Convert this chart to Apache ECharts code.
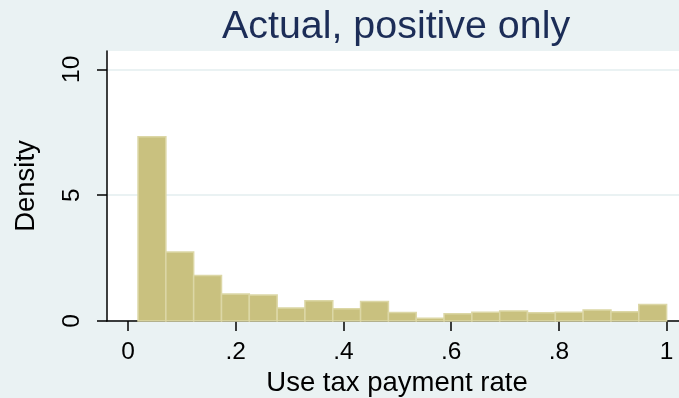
<!DOCTYPE html>
<html>
<head>
<meta charset="utf-8">
<script src="https://cdn.jsdelivr.net/npm/echarts@6/dist/echarts.min.js"></script>
<style>
  html, body { margin: 0; padding: 0; background: #EAF2F3; }
  #chart { width: 679px; height: 398px; }
</style>
</head>
<body>
<div id="chart"></div>
<script>
// Histogram bin edges (use tax payment rate) and density per bin
const binEdges = [0.0186, 0.0703, 0.1219, 0.1736, 0.2252, 0.2769, 0.3285, 0.3802, 0.4318, 0.4835,
                  0.5351, 0.5868, 0.6384, 0.6901, 0.7417, 0.7934, 0.8450, 0.8967, 0.9483, 1.0];
const densities = [7.32, 2.74, 1.81, 1.07, 1.03, 0.52, 0.80, 0.49, 0.77, 0.34,
                   0.11, 0.29, 0.35, 0.40, 0.33, 0.35, 0.44, 0.37, 0.66];

const xTickValues = [0, 0.2, 0.4, 0.6, 0.8, 1];
const xTickLabels = ['0', '.2', '.4', '.6', '.8', '1'];
const yTickValues = [0, 5, 10];
const yTickLabels = ['0', '5', '10'];

const titleText = 'Actual, positive only';
const xTitle = 'Use tax payment rate';
const yTitle = 'Density';

// one row per bin: [left edge, right edge, density]
const bins = densities.map((d, i) => [binEdges[i], binEdges[i + 1], d]);

const FONT = "'Liberation Sans', Arial, sans-serif";

const chart = echarts.init(document.getElementById('chart'), null, { renderer: 'canvas' });

chart.setOption({
  backgroundColor: '#EAF2F3',
  animation: false,
  title: {
    text: titleText,
    left: 222,
    top: 8,
    padding: 0,
    textStyle: { fontFamily: FONT, fontSize: 39.4, fontWeight: 'normal', color: '#1c2d57' }
  },
  grid: {
    left: 107, right: 0, top: 51, bottom: 77,
    outerBoundsMode: 'none',
    containLabel: false,
    show: true, backgroundColor: '#ffffff', borderWidth: 0
  },
  xAxis: {
    type: 'value',
    min: -0.039,
    max: 1.023,
    name: xTitle,
    nameLocation: 'middle',
    nameGap: 46,
    nameTextStyle: { fontFamily: FONT, fontSize: 27.5, color: '#000', padding: [0, 0, 0, 8] },
    axisLine: { show: true, onZero: false, lineStyle: { color: '#000', width: 1.5 } },
    axisTick: { show: true, length: 10, customValues: xTickValues, lineStyle: { color: '#000', width: 1.5 } },
    axisLabel: {
      customValues: xTickValues,
      fontFamily: FONT, fontSize: 24.5, color: '#000', margin: 19,
      formatter: v => xTickLabels[xTickValues.findIndex(t => Math.abs(t - v) < 1e-9)]
    },
    splitLine: { show: false }
  },
  yAxis: {
    type: 'value',
    min: 0,
    max: 10.73,
    interval: 5,
    name: yTitle,
    nameLocation: 'middle',
    nameGap: 67,
    nameTextStyle: { fontFamily: FONT, fontSize: 27.5, color: '#000' },
    axisLine: { show: true, onZero: false, lineStyle: { color: '#000', width: 1.5 } },
    axisTick: { show: true, length: 10, customValues: yTickValues, lineStyle: { color: '#000', width: 1.5 } },
    axisLabel: {
      customValues: yTickValues,
      rotate: 90,
      fontFamily: FONT, fontSize: 24.5, color: '#000', margin: 22,
      formatter: v => yTickLabels[yTickValues.findIndex(t => Math.abs(t - v) < 1e-9)]
    },
    splitLine: { show: true, lineStyle: { color: '#EAF2F3', width: 2 } }
  },
  series: [{
    type: 'custom',
    data: bins,
    encode: { x: [0, 1], y: 2 },
    renderItem: (params, api) => {
      const lo = api.coord([api.value(0), 0]);
      const hi = api.coord([api.value(1), api.value(2)]);
      return {
        type: 'rect',
        shape: { x: lo[0], y: hi[1], width: hi[0] - lo[0], height: lo[1] - hi[1] },
        style: { fill: '#C9C17F', stroke: '#DCD7A6', lineWidth: 1.5 }
      };
    }
  }]
});
</script>
</body>
</html>
